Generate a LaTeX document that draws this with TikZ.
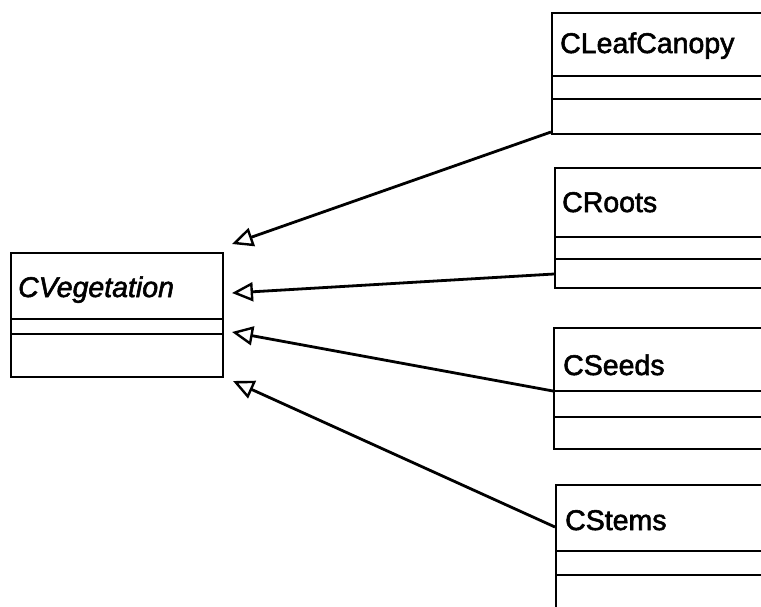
\documentclass[tikz,border=0pt]{standalone}
\usepackage{fontspec}
\newfontfamily\umlfont{Liberation Sans}[FakeBold=2]
\usetikzlibrary{arrows.meta}
\begin{document}
\begin{tikzpicture}[x=1pt,y=-1pt,
  classbox/.style={draw, line width=2pt, rectangle, inner sep=0pt, anchor=north west},
  compart/.style={line width=2pt},
  classname/.style={anchor=base west, inner sep=0pt, font=\umlfont\fontsize{28.5}{31}\selectfont},
  inherit/.style={line width=2.8pt, -{Triangle[open, length=21pt, width=19pt, line width=2.4pt]}}]
  \useasboundingbox (0,0) rectangle (761,606);
  \clip (0,0) rectangle (761,606);

  % abstract base class
  \node[classbox, minimum width=212pt, minimum height=124pt] (veg) at (10,252) {};
  \draw[compart] (10,319) -- (222,319);
  \draw[compart] (10,334) -- (222,334);
  \node[classname, font=\umlfont\fontsize{28.5}{31}\selectfont\itshape] (vegname) at (18,297) {CVegetation};

  % derived classes (running off the right edge)
  \node[classbox, minimum width=240pt, minimum height=121pt] (leaf) at (551,12) {};
  \draw[compart] (551,76) -- (800,76);
  \draw[compart] (551,99) -- (800,99);
  \node[classname] (leafname) at (560,53) {CLeafCanopy};

  \node[classbox, minimum width=240pt, minimum height=120pt] (roots) at (554,167) {};
  \draw[compart] (554,237) -- (800,237);
  \draw[compart] (554,259) -- (800,259);
  \node[classname] (rootsname) at (562,212) {CRoots};

  \node[classbox, minimum width=240pt, minimum height=121pt] (seeds) at (553,327) {};
  \draw[compart] (553,391) -- (800,391);
  \draw[compart] (553,417) -- (800,417);
  \node[classname] (seedsname) at (563,375) {CSeeds};

  \node[classbox, minimum width=240pt, minimum height=160pt] (stems) at (555,484) {};
  \draw[compart] (555,551) -- (800,551);
  \draw[compart] (555,575) -- (800,575);
  \node[classname] (stemsname) at (565,530) {CStems};

  % generalisation arrow ends beside the base class
  \coordinate (g1) at (232,244);
  \coordinate (g2) at (232,293);
  \coordinate (g3) at (232,332);
  \coordinate (g4) at (233,381);

  \draw[inherit] ([yshift=3pt]leaf.south west) -- (g1);
  \draw[inherit] ([yshift=15pt]roots.south west) -- (g2);
  \draw[inherit] ([yshift=59pt]seeds.south west) -- (g3);
  \draw[inherit] ([yshift=-43pt]stems.north west) -- (g4);
\end{tikzpicture}
\end{document}
